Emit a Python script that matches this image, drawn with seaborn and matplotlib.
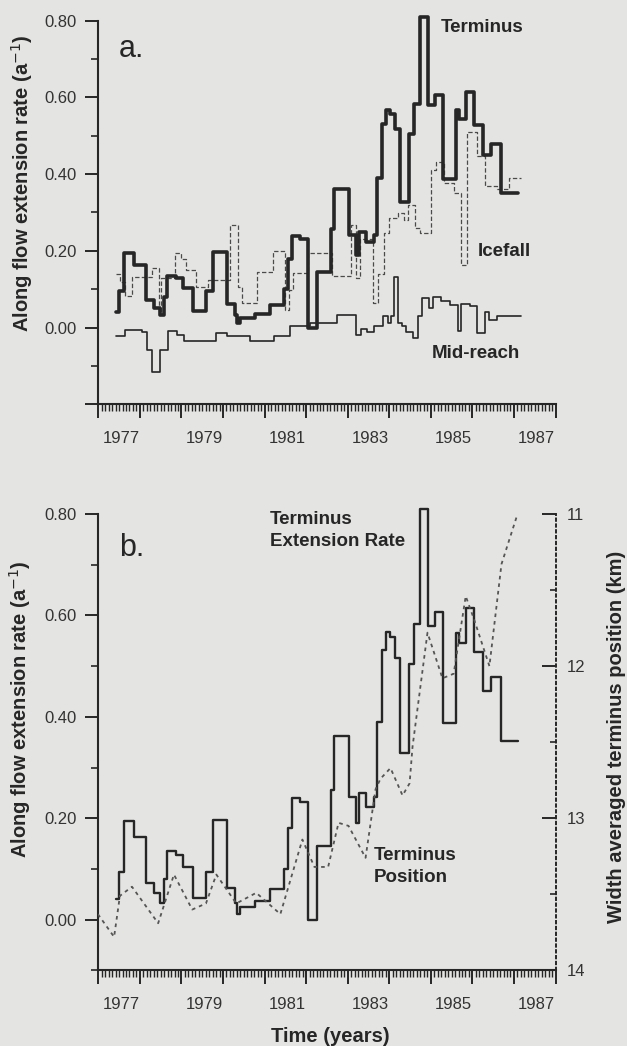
import numpy as np
import pandas as pd
import matplotlib
matplotlib.use("Agg")
import matplotlib.pyplot as plt
import seaborn as sns
from matplotlib.ticker import FixedLocator, MultipleLocator

# ---------------- data ----------------
# Terminus along-flow extension rate (a^-1), step series: start times and values
term_t = [1977.43, 1977.50, 1977.62, 1977.86, 1978.15, 1978.34, 1978.49, 1978.57, 1978.66,
          1978.86, 1979.04, 1979.27, 1979.60, 1979.76, 1980.10, 1980.30, 1980.34, 1980.40,
          1980.78, 1981.14, 1981.47, 1981.57, 1981.67, 1981.86, 1982.05, 1982.25, 1982.59,
          1982.68, 1983.03, 1983.19, 1983.27, 1983.43, 1983.63, 1983.71, 1983.83, 1983.91,
          1984.03, 1984.15, 1984.27, 1984.47, 1984.59, 1984.73, 1984.94, 1985.11, 1985.29,
          1985.60, 1985.68, 1985.85, 1986.05, 1986.25, 1986.46, 1986.70]
term_v = [0.040, 0.095, 0.195, 0.163, 0.073, 0.052, 0.033, 0.080, 0.135,
          0.128, 0.104, 0.043, 0.095, 0.197, 0.062, 0.033, 0.012, 0.025,
          0.036, 0.060, 0.100, 0.180, 0.240, 0.232, 0.000, 0.145, 0.256,
          0.362, 0.242, 0.190, 0.250, 0.222, 0.242, 0.390, 0.532, 0.568,
          0.557, 0.517, 0.328, 0.505, 0.584, 0.810, 0.580, 0.607, 0.388,
          0.566, 0.545, 0.615, 0.528, 0.450, 0.478, 0.352]
term_end = 1987.10

# Icefall extension rate (a^-1)
ice_t = [1977.43, 1977.52, 1977.65, 1977.80, 1978.30, 1978.45, 1978.52, 1978.85, 1979.00,
         1979.10, 1979.35, 1979.65, 1980.18, 1980.37, 1980.45, 1980.82, 1981.20, 1981.48,
         1981.60, 1981.68, 1982.05, 1982.62, 1983.07, 1983.20, 1983.30, 1983.62, 1983.72,
         1983.88, 1984.00, 1984.20, 1984.35, 1984.45, 1984.62, 1984.75, 1985.00, 1985.12,
         1985.32, 1985.56, 1985.73, 1985.88, 1986.10, 1986.30, 1986.60, 1986.88]
ice_v = [0.140, 0.120, 0.082, 0.132, 0.155, 0.040, 0.130, 0.194, 0.180,
         0.150, 0.107, 0.125, 0.268, 0.105, 0.064, 0.146, 0.200, 0.046,
         0.098, 0.142, 0.195, 0.135, 0.268, 0.130, 0.230, 0.064, 0.140,
         0.246, 0.285, 0.298, 0.280, 0.320, 0.260, 0.246, 0.411, 0.432,
         0.376, 0.350, 0.163, 0.510, 0.447, 0.370, 0.360, 0.390]
ice_end = 1987.17

# Mid-reach extension rate (a^-1)
mid_t = [1977.43, 1977.64, 1978.05, 1978.17, 1978.29, 1978.49, 1978.67, 1978.89, 1979.05,
         1979.82, 1980.10, 1980.66, 1981.22, 1981.62, 1982.10, 1982.75, 1983.19, 1983.31,
         1983.47, 1983.63, 1983.84, 1983.98, 1984.05, 1984.12, 1984.20, 1984.30, 1984.40,
         1984.56, 1984.68, 1984.80, 1984.96, 1985.05, 1985.25, 1985.45, 1985.65, 1985.73,
         1985.95, 1986.11, 1986.31, 1986.40, 1986.59]
mid_v = [-0.022, -0.006, -0.012, -0.058, -0.117, -0.058, -0.008, -0.020, -0.034,
         -0.015, -0.023, -0.036, -0.022, 0.003, 0.011, 0.033, -0.019, -0.005,
         -0.012, 0.003, 0.030, 0.012, 0.030, 0.133, 0.012, 0.005, -0.012,
         -0.028, 0.030, 0.077, 0.050, 0.080, 0.068, 0.060, -0.008, 0.062,
         0.055, -0.015, 0.040, 0.020, 0.030]
mid_end = 1987.17

# Width averaged terminus position (km)
pos_t = [1976.99, 1977.38, 1977.52, 1977.81, 1978.44, 1978.82, 1979.26, 1979.59, 1979.84,
         1980.32, 1980.80, 1981.38, 1981.91, 1982.20, 1982.53, 1982.78, 1983.02, 1983.43,
         1983.67, 1983.79, 1984.03, 1984.32, 1984.49, 1984.56, 1984.92, 1985.28, 1985.55,
         1985.84, 1986.05, 1986.41, 1986.70, 1987.11]
pos_km = [13.63, 13.78, 13.51, 13.45, 13.69, 13.37, 13.60, 13.56, 13.37,
          13.56, 13.49, 13.63, 13.14, 13.32, 13.32, 13.03, 13.05, 13.26,
          12.81, 12.74, 12.67, 12.85, 12.77, 12.53, 11.78, 12.08, 12.05,
          11.54, 11.70, 12.00, 11.33, 10.98]

year_labels = ["1977", "1979", "1981", "1983", "1985", "1987"]
year_label_pos = [1977.55, 1979.55, 1981.55, 1983.55, 1985.55, 1987.55]


def steps(t, v, end):
    return pd.DataFrame({"t": list(t) + [end], "v": list(v) + [v[-1]]})


# ---------------- style ----------------
sns.set_theme(style="ticks")
plt.rcParams["font.family"] = ["Liberation Sans", "DejaVu Sans"]
BG = "#e4e4e2"
INK = "#262626"
plt.rcParams.update({
    "figure.facecolor": BG, "axes.facecolor": BG, "savefig.facecolor": BG,
    "axes.edgecolor": INK, "xtick.color": INK, "ytick.color": INK,
    "text.color": INK, "axes.labelcolor": INK,
})

W, H = 627, 1046
fig = plt.figure(figsize=(W / 100, H / 100), dpi=100)
L, R = 98.3, 555.5
ax_a = fig.add_axes([L / W, 1 - 404.3 / H, (R - L) / W, (404.3 - 20.7) / H])
ax_b = fig.add_axes([L / W, 1 - 970.4 / H, (R - L) / W, (970.4 - 514) / H])


def style_x(ax):
    ax.set_xlim(1977, 1988)
    ax.xaxis.set_major_locator(FixedLocator(np.arange(1977, 1989)))
    ax.xaxis.set_minor_locator(MultipleLocator(1 / 12))
    ax.tick_params(axis="x", which="major", length=10, width=1.4, labelbottom=False, direction="out")
    ax.tick_params(axis="x", which="minor", length=5, width=1.0, direction="out")
    sec = ax.secondary_xaxis("bottom")
    sec.set_xticks(year_label_pos, year_labels)
    sec.tick_params(length=0, pad=19, labelsize=12, colors="#333333")
    sec.spines["bottom"].set_visible(False)
    for s in ["top", "right"]:
        ax.spines[s].set_visible(False)
    for s in ["left", "bottom"]:
        ax.spines[s].set_linewidth(1.5)
    ax.set_xlabel("")
    ax.set_ylabel("")


def style_y(ax, lo, majors):
    ax.set_ylim(lo, 0.8)
    ax.yaxis.set_major_locator(FixedLocator(majors))
    ax.yaxis.set_minor_locator(FixedLocator(np.round(np.arange(-0.1, 0.8, 0.2), 2)))
    ax.set_yticklabels(["" if m < 0 else f"{m:.2f}" for m in majors])
    ax.tick_params(axis="y", which="major", length=9.5, width=1.4, pad=6, labelsize=12, labelcolor="#333333")
    ax.tick_params(axis="y", which="minor", length=5, width=1.2)


# ---------------- panel a ----------------
d_ice = steps(ice_t, ice_v, ice_end)
d_mid = steps(mid_t, mid_v, mid_end)
d_term = steps(term_t, term_v, term_end)
sns.lineplot(data=d_ice, x="t", y="v", ax=ax_a, drawstyle="steps-post", color="#4a4a4a",
             lw=0.9, linestyle=(0, (3.5, 1.8)), estimator=None, sort=False)
sns.lineplot(data=d_mid, x="t", y="v", ax=ax_a, drawstyle="steps-post", color=INK,
             lw=1.2, estimator=None, sort=False)
sns.lineplot(data=d_term, x="t", y="v", ax=ax_a, drawstyle="steps-post", color=INK,
             lw=2.6, estimator=None, sort=False, clip_on=False)
style_x(ax_a)
style_y(ax_a, -0.2, [-0.2, 0.0, 0.2, 0.4, 0.6, 0.8])

ax_a.text(0.045, 0.925, "a.", transform=ax_a.transAxes, fontsize=22, ha="left", va="center")

# ---------------- panel b ----------------
sns.lineplot(data=d_term, x="t", y="v", ax=ax_b, drawstyle="steps-post", color=INK,
             lw=1.7, estimator=None, sort=False, clip_on=False)
style_x(ax_b)
style_y(ax_b, -0.1, [0.0, 0.2, 0.4, 0.6, 0.8])

ax2 = ax_b.twinx()
d_pos = pd.DataFrame({"t": pos_t, "km": pos_km})
sns.lineplot(data=d_pos, x="t", y="km", ax=ax2, color="#555555", lw=1.3,
             linestyle=(0, (2.0, 2.2)), estimator=None, sort=False)
ax2.set_ylim(14, 11)
ax2.yaxis.set_major_locator(FixedLocator([11, 12, 13, 14]))
ax2.yaxis.set_minor_locator(FixedLocator([11.5, 12.5, 13.5]))
ax2.tick_params(axis="y", which="major", direction="in", length=10, width=1.4, pad=8,
                labelsize=12, labelcolor="#333333")
ax2.tick_params(axis="y", which="minor", direction="in", length=4, width=1.2)
ax2.set_ylabel("")
ax2.set_xlabel("")
for s in ["top", "left", "bottom"]:
    ax2.spines[s].set_visible(False)
ax2.spines["right"].set_linestyle((0, (1.2, 1.8)))
ax2.spines["right"].set_linewidth(1.4)
ax_b.set_xlim(1977, 1988)

ax_b.text(0.045, 0.925, "b.", transform=ax_b.transAxes, fontsize=22, ha="left", va="center")

# ---------------- text labels (figure pixel coords, from top) ----------------
def ftext(x, y, s, **kw):
    fig.text(x / W, 1 - y / H, s, **kw)

lab = dict(fontsize=13.5, fontweight="bold", ha="left", va="center")
ftext(440.5, 27, "Terminus", **lab)
ftext(478, 252, "Icefall", **lab)
ftext(432, 353, "Mid-reach", **lab)
ftext(270, 519, "Terminus", **lab)
ftext(270, 541, "Extension Rate", **lab)
ftext(374, 855, "Terminus", **lab)
ftext(374, 877, "Position", **lab)

ylab = dict(fontsize=14.5, fontweight="bold", rotation=90, ha="center", va="center")
ftext(22, 183, "Along flow extension rate (a$^{-1}$)", **ylab)
ftext(20, 709, "Along flow extension rate (a$^{-1}$)", **ylab)
ftext(617, 737, "Width averaged terminus position (km)", **ylab)
ftext(330, 1036, "Time (years)", fontsize=14.5, fontweight="bold", ha="center", va="center")

fig.savefig("out.png", dpi=100, facecolor=BG)
